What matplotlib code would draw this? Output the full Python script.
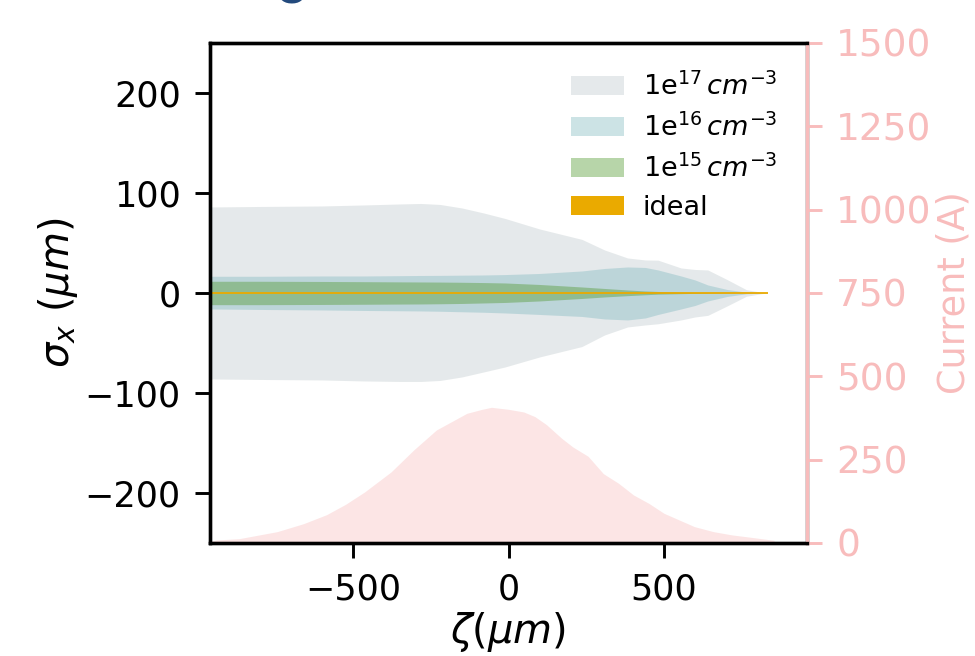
import numpy as np
import matplotlib.pyplot as plt
from matplotlib.patches import Patch

# slice positions (um) for the beam size bands
zeta = [-958, -800, -600, -466, -350, -281, -220, -150, -80, -11, 100, 236, 309, 383,
        440, 481, 555, 600, 641, 703, 765, 814, 833]

# sigma_x envelopes (um), upper and lower edges
s17_up = [86, 86.5, 87, 88, 89, 89.5, 88.5, 85, 80, 74.5, 64, 53.6, 43, 35,
          33, 32.8, 25, 23.5, 23, 13.4, 3.3, 0.7, 0]
s17_lo = [-86, -86.5, -87, -88, -88.5, -88.5, -87.5, -84, -79, -74, -64, -53.6, -42, -34,
          -32, -30.8, -27, -24, -22.4, -13, -3.3, -0.7, 0]
s16_up = [16.7, 16.7, 17, 17, 17.3, 17.5, 17.6, 17.8, 18, 18.4, 19.5, 22, 24.5, 26,
          25.5, 23, 17, 13, 8, 3.5, 0.8, 0.2, 0]
s16_lo = [-16, -16.5, -17, -17.5, -17.8, -18, -18.3, -18.8, -19.3, -20, -21.5, -23.5, -26, -27,
          -25, -21.5, -16, -12.5, -8, -3.5, -0.8, -0.2, 0]
s15_up = [11.7, 11.7, 11.5, 11.3, 11.1, 11, 10.9, 10.7, 10.4, 10, 8.5, 6, 4.5, 3,
          2, 1.5, 0.8, 0.5, 0.3, 0.1, 0, 0, 0]
s15_lo = [-11.7, -11.7, -11.5, -11.3, -11.1, -11, -10.8, -10.5, -10, -9.5, -8, -5.5, -4, -2.7,
          -1.8, -1.2, -0.7, -0.4, -0.2, -0.1, 0, 0, 0]
ideal = [1.0] * len(zeta)

# current profile
zeta_c = [-958, -939, -866, -744, -659, -585, -524, -463, -378, -305, -232, -183,
          -134, -85, -55, 0, 49, 85, 122, 171, 207, 256, 305, 354, 402, 451,
          500, 549, 598, 659, 720, 780, 854]
current = [5, 9, 13, 34, 58, 85, 116, 153, 213, 279, 339, 364,
           389, 401, 407, 401, 393, 379, 355, 314, 288, 260, 208, 179, 144, 119,
           89, 69, 49, 34, 24, 17, 8]

labels = [r'1e$^{17}\,cm^{-3}$', r'1e$^{16}\,cm^{-3}$', r'1e$^{15}\,cm^{-3}$', 'ideal']
colors = ['#c0cacd', '#80b9c0', '#4d9628', '#eaaa00']
pink = '#f8bcbc'

fig = plt.figure(figsize=(3.25, 2.1867), dpi=300)
ax = fig.add_axes([0.2154, 0.1723, 0.6123, 0.7622])

z = np.array(zeta)
ax.fill_between(z, s17_lo, s17_up, color=colors[0], alpha=0.4, lw=0)
ax.fill_between(z, s16_lo, s16_up, color=colors[1], alpha=0.4, lw=0)
ax.fill_between(z, s15_lo, s15_up, color=colors[2], alpha=0.4, lw=0)
ax.fill_between(z, -np.array(ideal), ideal, color=colors[3], alpha=0.9, lw=0)

ax.set_xlim(-960, 960)
ax.set_ylim(-250, 250)
ax.set_yticks([-200, -100, 0, 100, 200])
ax.set_xticks([-500, 0, 500])
ax.tick_params(labelsize=8.4, width=0.7)
for sp in ax.spines.values():
    sp.set_linewidth(0.8)
ax.set_ylabel(r'$\sigma_x\ (\mu m)$', fontsize=9.6, labelpad=1)
ax.set_xlabel(r'$\zeta(\mu m)$', fontsize=9.6, labelpad=1)

handles = [Patch(facecolor=c, alpha=a, lw=0) for c, a in zip(colors, [0.4, 0.4, 0.4, 1.0])]
ax.legend(handles, labels, loc='upper right', frameon=False, fontsize=6.5,
          handlelength=1.95, handletextpad=0.7, labelspacing=0.45, borderaxespad=0.7)

ax2 = ax.twinx()
ax2.fill_between(zeta_c, 0, current, color='lightcoral', alpha=0.2, lw=0)
ax2.set_ylim(0, 1500)
ax2.set_yticks([0, 250, 500, 750, 1000, 1250, 1500])
ax2.tick_params(labelsize=9, colors=pink, width=0.7)
ax2.spines['right'].set_color(pink)
ax2.spines['right'].set_linewidth(0.8)
ax2.set_ylabel('Current (A)', fontsize=8.8, color=pink, labelpad=1)

fig.text(0.299, 0.994, 'o', fontsize=11, fontweight='bold', color='#234a7d',
         ha='center', va='baseline')

fig.savefig('out.png', dpi=300)
